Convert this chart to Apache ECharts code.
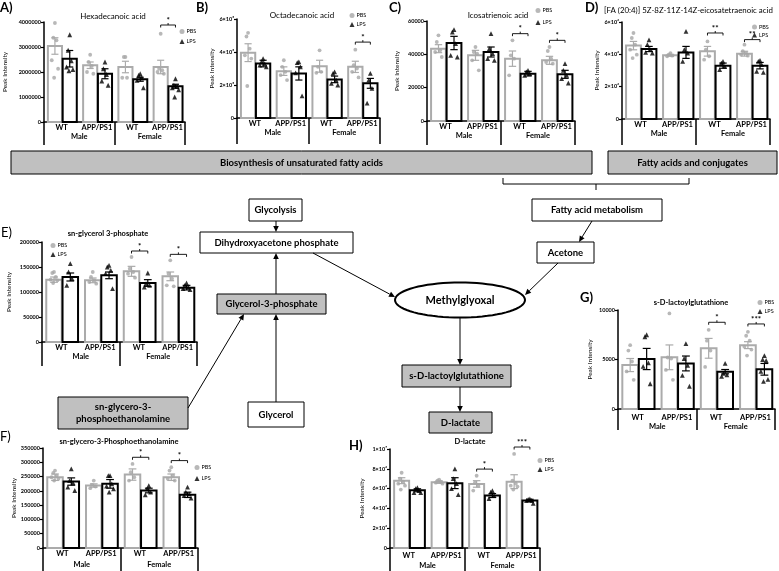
<!DOCTYPE html>
<html><head><meta charset="utf-8">
<script src="https://cdn.jsdelivr.net/npm/echarts@6/dist/echarts.min.js"></script>
<style>html,body{margin:0;padding:0;background:#fff}#c{width:779px;height:571px}</style>
</head><body><div id="c"></div>
<script>
// ---------- shared categories ----------
const groups = ['WT', 'APP/PS1', 'WT', 'APP/PS1'];
const sexes = ['Male', 'Female'];

// ---------- A) Hexadecanoic acid ----------
const A_ticks = ['0', '1000000', '2000000', '3000000', '4000000'];
const A_pbsMean = [3040000, 2270000, 2200000, 2200000];
const A_pbsSem = [330000, 130000, 230000, 270000];
const A_lpsMean = [2530000, 1930000, 1710000, 1430000];
const A_lpsSem = [330000, 200000, 80000, 80000];
const A_pbsPts = [[3960000, 3370000, 3270000, 2470000, 2130000, 1770000], [2690000, 2400000, 2240000, 2000000, 1930000], [2600000, 2600000, 1770000, 1770000], [3530000, 2130000, 2070000, 2000000, 1930000]];
const A_lpsPts = [[3490000, 2870000, 2450000, 2200000, 2100000, 2050000], [2400000, 2130000, 1900000, 1640000, 1470000], [1930000, 1870000, 1770000, 1670000, 1370000], [1730000, 1470000, 1430000, 1370000, 1290000, 1000000]];
const A_sigGroup = [3], A_sigY = [3880000], A_sigText = ['*'];

// ---------- B) Octadecanoic acid ----------
const B_ticks = ['0', '2×10⁵', '4×10⁵', '6×10⁵'];
const B_pbsMean = [396000, 284000, 314000, 310000];
const B_pbsSem = [54000, 26000, 36000, 34000];
const B_lpsMean = [330000, 270000, 234000, 210000];
const B_lpsSem = [20000, 40000, 20000, 30000];
const B_pbsPts = [[516000, 494000, 420000, 380000, 360000, 194000], [350000, 310000, 280000, 260000, 230000], [410000, 310000, 280000, 274000], [414000, 320000, 300000, 280000, 246000]];
const B_lpsPts = [[360000, 340000, 330000, 320000, 310000], [340000, 336000, 310000, 274000, 134000], [280000, 270000, 230000, 210000, 200000], [270000, 230000, 180000, 90000]];
const B_sigGroup = [3], B_sigY = [460000], B_sigText = ['*'];

// ---------- C) Icosatrienoic acid ----------
const C_ticks = ['0', '20000', '40000', '60000'];
const C_pbsMean = [43400, 39400, 37400, 36400];
const C_pbsSem = [2400, 3000, 4600, 2400];
const C_lpsMean = [46800, 41400, 28400, 28000];
const C_lpsSem = [4000, 3000, 1400, 2400];
const C_pbsPts = [[51400, 47400, 42400, 41400, 38400], [44400, 41400, 40400, 36400, 30400], [48400, 39400, 37400, 27400], [44400, 42000, 37400, 35400, 34400]];
const C_lpsPts = [[54800, 53400, 46400, 39400, 38400], [52400, 43400, 40400, 37400, 36400], [30400, 29400, 28400, 27400], [34400, 30400, 27400, 25400, 22800]];
const C_sigGroup = [2, 3], C_sigY = [52400, 48400], C_sigText = ['*', '*'];

// ---------- D) eicosatetraenoic acid ----------
const D_ticks = ['0', '2×10⁶', '4×10⁶', '6×10⁶'];
const D_pbsMean = [4540000, 3940000, 4190000, 4040000];
const D_pbsSem = [260000, 60000, 300000, 150000];
const D_lpsMean = [4330000, 4120000, 3300000, 3300000];
const D_lpsSem = [160000, 370000, 160000, 200000];
const D_pbsPts = [[5320000, 5010000, 4600000, 4290000, 3980000, 3770000], [4080000, 3980000, 3920000, 3880000], [4800000, 4290000, 3880000, 3670000], [4600000, 4190000, 4080000, 3980000, 3920000]];
const D_lpsPts = [[4900000, 4600000, 4290000, 4120000, 4080000], [5420000, 4290000, 4080000, 3570000], [3570000, 3460000, 3260000, 3050000], [3630000, 3570000, 3360000, 2950000, 2890000]];
const D_sigGroup = [2, 3], D_sigY = [5320000, 4910000], D_sigText = ['**', '**'];

// ---------- E) sn-glycerol 3-phosphate ----------
const E_ticks = ['0', '50000', '100000', '150000', '200000'];
const E_pbsMean = [124700, 123300, 141300, 131300];
const E_pbsSem = [5300, 4700, 10000, 8700];
const E_lpsMean = [130000, 133300, 118000, 108700];
const E_lpsSem = [8000, 6700, 6700, 4600];
const E_pbsPts = [[140000, 138000, 130000, 124700, 123300, 118000], [140000, 130000, 123300, 120000, 116700], [170000, 146700, 140000, 136700, 128700], [163300, 136700, 126700, 113300, 111300]];
const E_lpsPts = [[156700, 140000, 126700, 113300], [153300, 150000, 143300, 136700, 106700], [138000, 116700, 113300, 110000], [118000, 113300, 110000, 106700, 104700]];
const E_sigGroup = [2, 3], E_sigY = [182000, 175300], E_sigText = ['*', '*'];

// ---------- F) sn-glycero-3-Phosphoethanolamine ----------
const F_ticks = ['0', '50000', '100000', '150000', '200000', '250000', '300000', '350000'];
const F_pbsMean = [247700, 218600, 257000, 247700];
const F_pbsSem = [11300, 5900, 19800, 11300];
const F_lpsMean = [232600, 224500, 201200, 186100];
const F_lpsSem = [12800, 15100, 8100, 9300];
const F_pbsPts = [[271000, 262800, 253500, 247700, 242000, 236100], [236100, 221000, 215200, 209300], [294200, 265200, 247700, 236100], [282600, 271000, 253500, 242000, 236100]];
const F_lpsPts = [[276800, 236100, 228000, 212800, 201200], [253500, 253500, 224500, 216300, 207000, 195400], [218600, 207000, 195400, 186100], [212800, 195400, 189600, 183800, 174500]];
const F_sigGroup = [2, 3], F_sigY = [317500, 305900], F_sigText = ['*', '*'];

// ---------- G) s-D-lactoylglutathione ----------
const G_ticks = ['0', '5000', '10000'];
const G_pbsMean = [4440, 5220, 6130, 6450];
const G_pbsSem = [660, 1250, 1000, 350];
const G_lpsMean = [5050, 4600, 3770, 4010];
const G_lpsSem = [1070, 750, 220, 590];
const G_pbsPts = [[6450, 5900, 4800, 3800, 2950], [9650, 5200, 5100, 3950, 2950], [8000, 6900, 5900, 4250], [7800, 7400, 6900, 6300, 6000, 5400]];
const G_lpsPts = [[7500, 7300, 4650, 4300, 2550], [6600, 5100, 4400, 3400, 2300], [4600, 3600, 3450, 3300], [5400, 5000, 4900, 3800, 3000, 2800]];
const G_sigGroup = [2, 3], G_sigY = [8760, 8590], G_sigText = ['*', '***'];

// ---------- H) D-lactate ----------
const H_ticks = ['0', '2×10⁶', '4×10⁶', '6×10⁶', '8×10⁶', '1×10⁷'];
const H_pbsMean = [6800000, 6650000, 6470000, 6700000];
const H_pbsSem = [300000, 120000, 330000, 700000];
const H_lpsMean = [5830000, 6550000, 5300000, 4800000];
const H_lpsSem = [150000, 550000, 200000, 120000];
const H_pbsPts = [[7600000, 7000000, 6700000, 6500000, 6300000, 5900000], [6900000, 6800000, 6700000, 6600000, 6500000], [7300000, 6600000, 6300000, 5800000], [9500000, 6800000, 6500000, 6300000, 6200000, 5900000]];
const H_lpsPts = [[6100000, 6000000, 5800000, 5600000, 5600000], [8000000, 7000000, 6500000, 6000000, 5400000], [5800000, 5650000, 5300000, 5000000], [4950000, 4900000, 4800000, 4800000, 4500000]];
const H_sigGroup = [2, 3], H_sigY = [7970000, 10200000], H_sigText = ['*', '***'];

// ---------- panel layout ----------
const FONT = 'Lato, "Open Sans", "DejaVu Sans", sans-serif';
const PBS_C = '#ababab', LPS_C = '#000000';
const PBS_OFF = 0.31, LPS_OFF = 0.73;

const panels = [
  {ticks: A_ticks, pm: A_pbsMean, ps: A_pbsSem, lm: A_lpsMean, ls: A_lpsSem, pp: A_pbsPts, lp: A_lpsPts, sg: A_sigGroup, sy: A_sigY, st: A_sigText,
   grid: {left: 42, top: 22, width: 143, height: 100}, max: 4000000, interval: 1000000, nameGap: 36, m1: 2, m2: 11, tick: 23,
   legend: [179.5, 28.5, 4]},
  {ticks: B_ticks, pm: B_pbsMean, ps: B_pbsSem, lm: B_lpsMean, ls: B_lpsSem, pp: B_pbsPts, lp: B_lpsPts, sg: B_sigGroup, sy: B_sigY, st: B_sigText,
   grid: {left: 237, top: 19, width: 143, height: 99}, max: 600000, interval: 200000, nameGap: 21, m1: 2, m2: 11, tick: 26,
   legend: [349.5, 12.5, 3]},
  {ticks: C_ticks, pm: C_pbsMean, ps: C_pbsSem, lm: C_lpsMean, ls: C_lpsSem, pp: C_pbsPts, lp: C_lpsPts, sg: C_sigGroup, sy: C_sigY, st: C_sigText,
   grid: {left: 427, top: 21, width: 148, height: 100}, max: 60000, interval: 20000, nameGap: 27, m1: 2, m2: 11, tick: 24,
   legend: [535.5, 7.5, 6]},
  {ticks: D_ticks, pm: D_pbsMean, ps: D_pbsSem, lm: D_lpsMean, ls: D_lpsSem, pp: D_pbsPts, lp: D_lpsPts, sg: D_sigGroup, sy: D_sigY, st: D_sigText,
   grid: {left: 622, top: 22, width: 148, height: 97}, max: 6000000, interval: 2000000, nameGap: 22, m1: 2, m2: 11, tick: 26,
   legend: [752, 24, 2]},
  {ticks: E_ticks, pm: E_pbsMean, ps: E_pbsSem, lm: E_lpsMean, ls: E_lpsSem, pp: E_pbsPts, lp: E_lpsPts, sg: E_sigGroup, sy: E_sigY, st: E_sigText,
   grid: {left: 42, top: 242, width: 155, height: 100}, max: 200000, interval: 50000, nameGap: 30, m1: 2, m2: 11, tick: 24,
   legend: [50.5, 242.5, 3]},
  {ticks: F_ticks, pm: F_pbsMean, ps: F_pbsSem, lm: F_lpsMean, ls: F_lpsSem, pp: F_pbsPts, lp: F_lpsPts, sg: F_sigGroup, sy: F_sigY, st: F_sigText,
   grid: {left: 43, top: 448, width: 155, height: 100}, max: 350000, interval: 50000, nameGap: 25, m1: 2, m2: 13, tick: 24,
   legend: [194.5, 464.5, 5]},
  {ticks: G_ticks, pm: G_pbsMean, ps: G_pbsSem, lm: G_lpsMean, ls: G_lpsSem, pp: G_pbsPts, lp: G_lpsPts, sg: G_sigGroup, sy: G_sigY, st: G_sigText,
   grid: {left: 618, top: 310, width: 157, height: 99}, max: 10000, interval: 5000, nameGap: 25, m1: 5, m2: 14, tick: 21,
   legend: [757.5, 299.5, 3]},
  {ticks: H_ticks, pm: H_pbsMean, ps: H_pbsSem, lm: H_lpsMean, ls: H_lpsSem, pp: H_pbsPts, lp: H_lpsPts, sg: H_sigGroup, sy: H_sigY, st: H_sigText,
   grid: {left: 390, top: 449, width: 150, height: 99}, max: 10000000, interval: 2000000, nameGap: 25, m1: 4, m2: 14, tick: 24,
   legend: [537.5, 457.5, 3]}
];

const JIT = [0, -1, 1, -2, 2, -0.5, 0.5];

function barItem(color) {
  return function (params, api) {
    const xc = api.value(0), m = api.value(1), s = api.value(2);
    const tl = api.coord([xc - 0.2, m]), br = api.coord([xc + 0.2, 0]);
    const up = api.coord([xc, m + s]), dn = api.coord([xc, m - s]);
    const cw = (api.coord([xc + 0.1, 0])[0] - api.coord([xc - 0.1, 0])[0]) / 2;
    return {type: 'group', children: [
      {type: 'rect', shape: {x: tl[0], y: tl[1], width: br[0] - tl[0], height: br[1] - tl[1]}, style: {fill: '#fff', stroke: color, lineWidth: 2}},
      {type: 'line', shape: {x1: up[0], y1: up[1], x2: dn[0], y2: dn[1]}, style: {stroke: color, lineWidth: 1.2}},
      {type: 'line', shape: {x1: up[0] - cw, y1: up[1], x2: up[0] + cw, y2: up[1]}, style: {stroke: color, lineWidth: 1.2}},
      {type: 'line', shape: {x1: dn[0] - cw, y1: dn[1], x2: dn[0] + cw, y2: dn[1]}, style: {stroke: color, lineWidth: 1.2}}
    ]};
  };
}
function sigItem(texts) {
  return function (params, api) {
    const a = api.coord([api.value(0), api.value(2)]), b = api.coord([api.value(1), api.value(2)]);
    const mx = (a[0] + b[0]) / 2;
    return {type: 'group', children: [
      {type: 'polyline', shape: {points: [[a[0], a[1] + 2.5], [a[0], a[1]], [b[0], b[1]], [b[0], b[1] + 2.5]]}, style: {stroke: '#000', fill: null, lineWidth: 0.9}},
      {type: 'line', shape: {x1: mx, y1: a[1], x2: mx, y2: a[1] - 2}, style: {stroke: '#000', lineWidth: 0.9}},
      {type: 'text', x: mx, y: a[1] - 1, style: {text: texts[params.dataIndex], fontSize: 8, fontWeight: 'bold', fill: '#000', align: 'center', verticalAlign: 'bottom', fontFamily: FONT}}
    ]};
  };
}
function pts(arr, off) {
  const out = [];
  arr.forEach((g, gi) => g.forEach((v, k) => out.push([gi + off + JIT[k % JIT.length] * 0.045, v])));
  return out;
}

const grid = [], xAxis = [], yAxis = [], series = [], legend = [];
panels.forEach((p, i) => {
  grid.push(Object.assign({containLabel: false}, p.grid));
  xAxis.push({type: 'value', gridIndex: i, min: 0, max: 4, axisLine: {show: true, onZero: false, lineStyle: {color: '#000', width: 1.5}},
    axisTick: {show: false}, axisLabel: {show: false}, splitLine: {show: false}});
  xAxis.push({type: 'category', gridIndex: i, data: groups, position: 'bottom', axisLine: {show: false}, axisTick: {show: false},
    axisLabel: {interval: 0, margin: p.m1, fontSize: 7.5, fontWeight: 'bold', color: '#000', fontFamily: FONT}, splitLine: {show: false}});
  xAxis.push({type: 'category', gridIndex: i, data: sexes, position: 'bottom', axisLine: {show: false},
    axisTick: {show: true, length: p.tick, interval: 0, lineStyle: {color: '#000', width: 1.5}},
    axisLabel: {interval: 0, margin: p.m2, fontSize: 7.5, fontWeight: 'bold', color: '#000', fontFamily: FONT}, splitLine: {show: false}});
  yAxis.push({type: 'value', gridIndex: i, min: 0, max: p.max, interval: p.interval,
    axisLine: {show: true, lineStyle: {color: '#000', width: 1.5}}, axisTick: {show: true, length: 3, lineStyle: {color: '#000', width: 1.2}},
    splitLine: {show: false},
    axisLabel: {margin: 3, fontSize: 5.5, fontWeight: 'bold', color: '#000', fontFamily: FONT,
      formatter: (v) => p.ticks[Math.round(v / p.interval)]},
    name: 'Peak Intensity', nameLocation: 'middle', nameGap: p.nameGap,
    nameTextStyle: {fontSize: 6.5, color: '#000', fontFamily: FONT}});
  const xi = i * 3;
  series.push({type: 'custom', xAxisIndex: xi, yAxisIndex: i, z: 2, renderItem: barItem(PBS_C), silent: true,
    data: p.pm.map((m, g) => [g + PBS_OFF, m, p.ps[g]])});
  series.push({type: 'custom', xAxisIndex: xi, yAxisIndex: i, z: 2, renderItem: barItem(LPS_C), silent: true,
    data: p.lm.map((m, g) => [g + LPS_OFF, m, p.ls[g]])});
  series.push({type: 'scatter', name: 'PBS', xAxisIndex: xi, yAxisIndex: i, z: 3, symbol: 'circle', symbolSize: 3.8,
    itemStyle: {color: '#a6a6a6'}, data: pts(p.pp, PBS_OFF), silent: true});
  series.push({type: 'scatter', name: 'LPS', xAxisIndex: xi, yAxisIndex: i, z: 3, symbol: 'triangle', symbolSize: 4.8,
    itemStyle: {color: '#000'}, data: pts(p.lp, LPS_OFF), silent: true});
  series.push({type: 'custom', xAxisIndex: xi, yAxisIndex: i, z: 4, clip: false, renderItem: sigItem(p.st), silent: true,
    data: p.sg.map((g, k) => [g + PBS_OFF, g + LPS_OFF, p.sy[k]])});
  legend.push({left: p.legend[0], top: p.legend[1], orient: 'vertical', itemWidth: 5, itemHeight: 5, itemGap: p.legend[2], padding: 0,
    selectedMode: false, textStyle: {fontSize: 5.5, color: '#000', fontFamily: FONT, padding: [0, 0, 0, -3]},
    data: [{name: 'PBS', icon: 'circle', itemStyle: {color: '#a6a6a6'}}, {name: 'LPS', icon: 'triangle', itemStyle: {color: '#000'}}]});
});

// ---------- texts & pathway diagram ----------
const G = [];
function txt(x, y, text, size, weight, align, color) {
  G.push({type: 'text', x: x, y: y, z: 10, style: {text: text, fontSize: size, fontWeight: weight || 'normal', fill: color || '#000',
    align: align || 'center', verticalAlign: 'middle', fontFamily: FONT}});
}
function box(x1, y1, x2, y2, fill, label, size) {
  G.push({type: 'rect', shape: {x: x1, y: y1, width: x2 - x1, height: y2 - y1}, z: 5, style: {fill: fill, stroke: '#000', lineWidth: 1}});
  const lines = label.split('\n');
  const lh = size * 1.2;
  lines.forEach((l, k) => txt((x1 + x2) / 2, (y1 + y2) / 2 + (k - (lines.length - 1) / 2) * lh, l, size, 'bold'));
}
function arrow(x1, y1, x2, y2) {
  const dx = x2 - x1, dy = y2 - y1, L = Math.sqrt(dx * dx + dy * dy), ux = dx / L, uy = dy / L;
  const hl = 6, hw = 2.8;
  const bx = x2 - ux * hl, by = y2 - uy * hl;
  G.push({type: 'line', z: 6, shape: {x1: x1, y1: y1, x2: bx, y2: by}, style: {stroke: '#000', lineWidth: 1}});
  G.push({type: 'polygon', z: 6, shape: {points: [[x2, y2], [bx - uy * hw, by + ux * hw], [bx + uy * hw, by - ux * hw]]}, style: {fill: '#000'}});
}

// panel letters
txt(0, 8, 'A)', 13, 'bold', 'left');
txt(196, 8, 'B)', 13, 'bold', 'left');
txt(389, 8, 'C)', 13, 'bold', 'left');
txt(585, 8, 'D)', 13, 'bold', 'left');
txt(1, 233, 'E)', 13, 'normal', 'left');
txt(0, 437, 'F)', 13, 'normal', 'left');
txt(580, 298, 'G)', 13, 'bold', 'left');
txt(349, 446, 'H)', 13, 'bold', 'left');

// chart titles
txt(113, 16, 'Hexadecanoic acid', 8, 'normal');
txt(302, 15, 'Octadecanoic acid', 8, 'normal');
txt(498, 15, 'Icosatrienoic acid', 8, 'normal');
txt(604, 10, '[FA (20:4)] 5Z-8Z-11Z-14Z-eicosatetraenoic acid', 7.9, 'normal', 'left');
txt(108, 234, 'sn-glycerol 3-phosphate', 7.5, 'bold');
txt(119, 442, 'sn-glycero-3-Phosphoethanolamine', 7.5, 'bold');
txt(691, 303, 's-D-lactoylglutathione', 7.5, 'bold');
txt(470, 442, 'D-lactate', 7.5, 'bold');

// banners
box(11, 151, 592, 174, '#c0c0c0', 'Biosynthesis of unsaturated fatty acids', 9.5);
box(608, 151, 777, 174, '#c0c0c0', 'Fatty acids and conjugates', 9.5);
G.push({type: 'polyline', z: 6, shape: {points: [[503, 178], [503, 184], [689, 184], [689, 178]]}, style: {stroke: '#000', fill: null, lineWidth: 1}});
G.push({type: 'line', z: 6, shape: {x1: 596, y1: 184, x2: 596, y2: 190}, style: {stroke: '#000', lineWidth: 1}});

// pathway boxes
box(532, 199, 662, 221, '#ffffff', 'Fatty acid metabolism', 9.5);
box(249, 199, 302, 221, '#ffffff', 'Glycolysis', 9.5);
box(200, 232, 353, 253, '#ffffff', 'Dihydroxyacetone phosphate', 9.5);
box(537, 242, 594, 263, '#ffffff', 'Acetone', 9.5);
box(217, 294, 326, 314, '#c0c0c0', 'Glycerol-3-phosphate', 9.5);
box(248, 402, 304, 427, '#ffffff', 'Glycerol', 9.5);
box(58, 397, 188, 429, '#c0c0c0', 'sn-glycero-3-\nphosphoethanolamine', 9.5);
box(402, 365, 511, 387, '#c0c0c0', 's-D-lactoylglutathione', 9.5);
box(429, 412, 492, 433, '#c0c0c0', 'D-lactate', 9.5);

// Methylglyoxal ellipse
const ell = [];
for (let k = 0; k < 72; k++) { const t = k / 72 * Math.PI * 2; ell.push([460 + 65 * Math.cos(t), 300 + 17.5 * Math.sin(t)]); }
G.push({type: 'polygon', z: 5, shape: {points: ell}, style: {fill: '#fff', stroke: '#000', lineWidth: 2}});
txt(460, 300, 'Methylglyoxal', 11, 'bold');

// arrows
arrow(276, 221, 276, 232);
arrow(276, 294, 276, 253);
arrow(276, 402, 276, 314);
arrow(188, 408, 244, 314);
arrow(313, 253, 395, 297);
arrow(592, 221, 579, 242);
arrow(558, 263, 525, 295);
arrow(460, 317.5, 460, 365);
arrow(460, 387, 460, 412);

const chart = echarts.init(document.getElementById('c'), null, {renderer: 'canvas', width: 779, height: 571});
chart.setOption({
  animation: false,
  backgroundColor: '#ffffff',
  textStyle: {fontFamily: FONT},
  grid: grid, xAxis: xAxis, yAxis: yAxis, series: series, legend: legend,
  graphic: {elements: G}
});
</script></body></html>
